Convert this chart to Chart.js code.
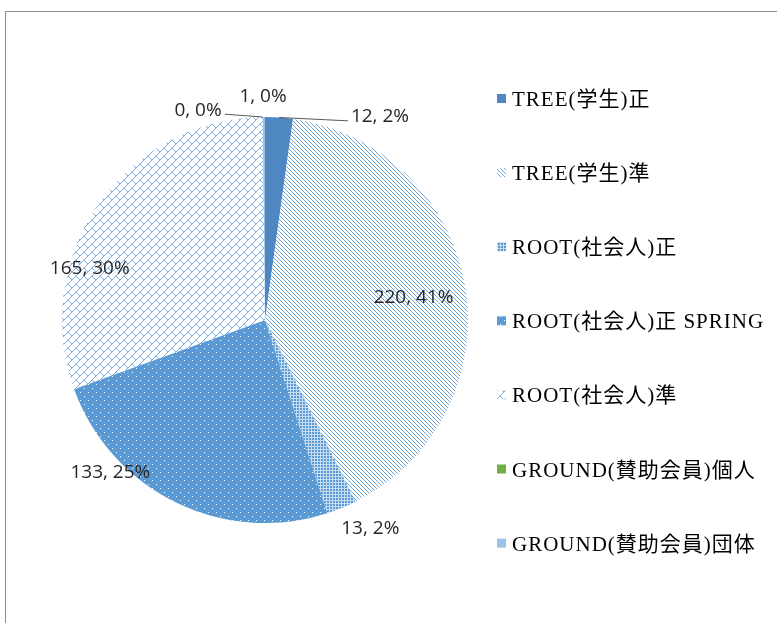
<!DOCTYPE html>
<html>
<head>
<meta charset="utf-8">
<script src="https://cdn.jsdelivr.net/npm/chart.js@4.4.1/dist/chart.umd.min.js"></script>
<style>
html, body { margin: 0; padding: 0; background: #fff; overflow: hidden; }
#frame { position: absolute; left: 5px; top: 11px; width: 900px; height: 800px;
         border-left: 1px solid #8c8c8c; border-top: 1px solid #8c8c8c; }
#wrap { position: absolute; left: 0; top: 0; width: 777px; height: 623px; }
</style>
</head>
<body>
<div id="frame"></div>
<div id="wrap"><canvas id="chart"></canvas></div>
<script>
// Member counts by category
const categories = [
    'TREE(学生)正',
    'TREE(学生)準',
    'ROOT(社会人)正',
    'ROOT(社会人)正 SPRING',
    'ROOT(社会人)準',
    'GROUND(賛助会員)個人',
    'GROUND(賛助会員)団体'
];
const members = [12, 220, 13, 133, 165, 0, 1];
const percentLabels = ['2%', '41%', '2%', '25%', '30%', '0%', '0%'];

// Where each data label sits: angle (deg, clockwise from top) and radius factor
const labelPlacement = [
    { angle: 29.5, r: 1.15, leader: 'left' },
    { angle: 81.5, r: 0.74 },
    { angle: 153.2, r: 1.15 },
    { angle: 225.4, r: 1.07 },
    { angle: 286.4, r: 0.90 },
    { angle: 342.3, r: 1.085, leader: 'right' },
    { angle: 359.5, r: 1.10 }
];

// Build a small pixel pattern
function makePattern(size, bg, fg, pixels) {
    const c = document.createElement('canvas');
    c.width = size; c.height = size;
    const g = c.getContext('2d');
    g.fillStyle = bg;
    g.fillRect(0, 0, size, size);
    g.fillStyle = fg;
    pixels.forEach(([x, y]) => g.fillRect(x, y, 1, 1));
    return g.createPattern(c, 'repeat');
}

const ctx = document.getElementById('chart').getContext('2d');

// downward diagonal lines
const diagPattern = makePattern(4, '#ffffff', '#6ea6dc', [[0, 0], [1, 1], [2, 2], [3, 3]]);
// dense grid
const gridPattern = makePattern(3, '#5b9bd5', '#c8dcf1', [[2, 0], [2, 1], [2, 2], [0, 2], [1, 2]]);
// dotted
const dotPattern = makePattern(8, '#5b9bd5', '#ffffff', [[0, 0], [4, 4]]);
// diagonal brick
const brickPattern = makePattern(8, '#ffffff', '#78aade', [
    [7, 0], [6, 1], [5, 2], [4, 3], [3, 4], [4, 4], [2, 5], [5, 5], [1, 6], [6, 6], [0, 7], [7, 7]
]);

const sliceColors = ['#4f87c2', diagPattern, gridPattern, dotPattern, brickPattern, '#70ad47', '#9dc3e6'];

// Data labels + leader lines
const pieLabels = {
    id: 'pieLabels',
    afterDatasetsDraw(chart) {
        const c = chart.ctx;
        const meta = chart.getDatasetMeta(0);
        c.save();
        c.font = '19px "Open Sans"';
        c.fillStyle = '#262626';
        c.textAlign = 'center';
        c.textBaseline = 'middle';
        meta.data.forEach((arc, i) => {
            const p = labelPlacement[i];
            const a = (p.angle - 90) * Math.PI / 180;
            const rr = arc.outerRadius * p.r;
            const x = arc.x + Math.cos(a) * rr;
            const y = arc.y + Math.sin(a) * rr;
            const text = members[i] + ', ' + percentLabels[i];
            c.fillText(text, x, y);
            if (p.leader) {
                const w = c.measureText(text).width;
                const mid = (arc.startAngle + arc.endAngle) / 2;
                const sx = arc.x + Math.cos(mid) * arc.outerRadius;
                const sy = arc.y + Math.sin(mid) * arc.outerRadius;
                const ex = p.leader === 'left' ? x - w / 2 - 3 : x + w / 2 + 3;
                const ey = y + 4;
                c.strokeStyle = '#595959';
                c.lineWidth = 1;
                c.beginPath();
                c.moveTo(sx, sy);
                c.lineTo(ex, ey);
                c.stroke();
            }
        });
        c.restore();
    }
};

// Legend on the right side
const sideLegend = {
    id: 'sideLegend',
    afterDraw(chart) {
        const c = chart.ctx;
        const area = chart.chartArea;
        const boxX = area.right + 29;
        const textX = boxX + 15;
        const firstBase = area.top - 11;
        const step = 74.1;
        c.save();
        c.font = '21px "Liberation Serif", "Noto Sans CJK JP"';
        c.letterSpacing = '1px';
        c.textBaseline = 'alphabetic';
        categories.forEach((name, i) => {
            const base = firstBase + i * step;
            c.fillStyle = sliceColors[i];
            c.fillRect(boxX, base - 12, 9, 9);
            c.fillStyle = '#000000';
            c.fillText(name, textX, base);
        });
        c.restore();
    }
};

new Chart(ctx, {
    type: 'pie',
    data: {
        labels: categories,
        datasets: [{
            data: members,
            backgroundColor: sliceColors,
            borderWidth: 0
        }]
    },
    options: {
        responsive: true,
        maintainAspectRatio: false,
        animation: false,
        layout: { padding: { left: 62, top: 117, right: 309, bottom: 100 } },
        plugins: {
            legend: { display: false },
            tooltip: { enabled: false }
        }
    },
    plugins: [pieLabels, sideLegend]
});
</script>
</body>
</html>
